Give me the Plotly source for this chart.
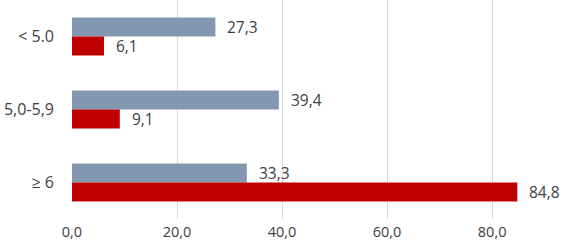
import plotly.graph_objects as go

categories = ["< 5.0", "5,0-5,9", "≥ 6"]
series_gray = [27.3, 39.4, 33.3]
series_red = [6.1, 9.1, 84.8]
x_ticks = [0, 20, 40, 60, 80]
x_tick_labels = ["0,0", "20,0", "40,0", "60,0", "80,0"]

font_family = "Open Sans, Liberation Sans, sans-serif"
text_color = "#404040"


def fmt(v):
    return f"{v:.1f}".replace(".", ",")


fig = go.Figure()
fig.add_trace(go.Bar(
    y=categories, x=series_gray, orientation="h",
    marker=dict(color="#8497b0", line=dict(width=0)),
    name="gray", offsetgroup="a",
))
fig.add_trace(go.Bar(
    y=categories, x=series_red, orientation="h",
    marker=dict(color="#c00000", line=dict(width=0)),
    name="red", offsetgroup="b",
))

# value labels placed just right of each bar end
half = (1 - 0.48) / 4
for i, (g, r) in enumerate(zip(series_gray, series_red)):
    fig.add_annotation(x=g, y=i - half, text=fmt(g), xanchor="left", yanchor="middle",
                       xshift=10, showarrow=False,
                       font=dict(family=font_family, size=15.5, color=text_color))
    fig.add_annotation(x=r, y=i + half, text=fmt(r), xanchor="left", yanchor="middle",
                       xshift=10, showarrow=False,
                       font=dict(family=font_family, size=15.5, color=text_color))

fig.update_layout(
    width=563, height=247,
    margin=dict(l=72, r=0, t=0, b=28, autoexpand=False),
    barmode="group", bargap=0.48, bargroupgap=0,
    showlegend=False,
    plot_bgcolor="white", paper_bgcolor="white",
)
fig.update_xaxes(
    range=[0, 93.5], tickvals=x_ticks, ticktext=x_tick_labels,
    showgrid=True, gridcolor="#d9d9d9", gridwidth=1,
    zeroline=False, showline=False, automargin=False,
    tickfont=dict(family=font_family, size=14.5, color=text_color),
    ticklabelstandoff=2,
)
fig.update_yaxes(
    type="category", categoryorder="array", categoryarray=categories,
    range=[2.5, -0.5], showgrid=False, zeroline=False, showline=False, automargin=False,
    tickfont=dict(family=font_family, size=16, color=text_color),
    ticklabelstandoff=17,
)

fig.write_html("out.html", config={"displayModeBar": False},
               post_script="document.body.style.margin='0';document.body.style.overflow='hidden';")
